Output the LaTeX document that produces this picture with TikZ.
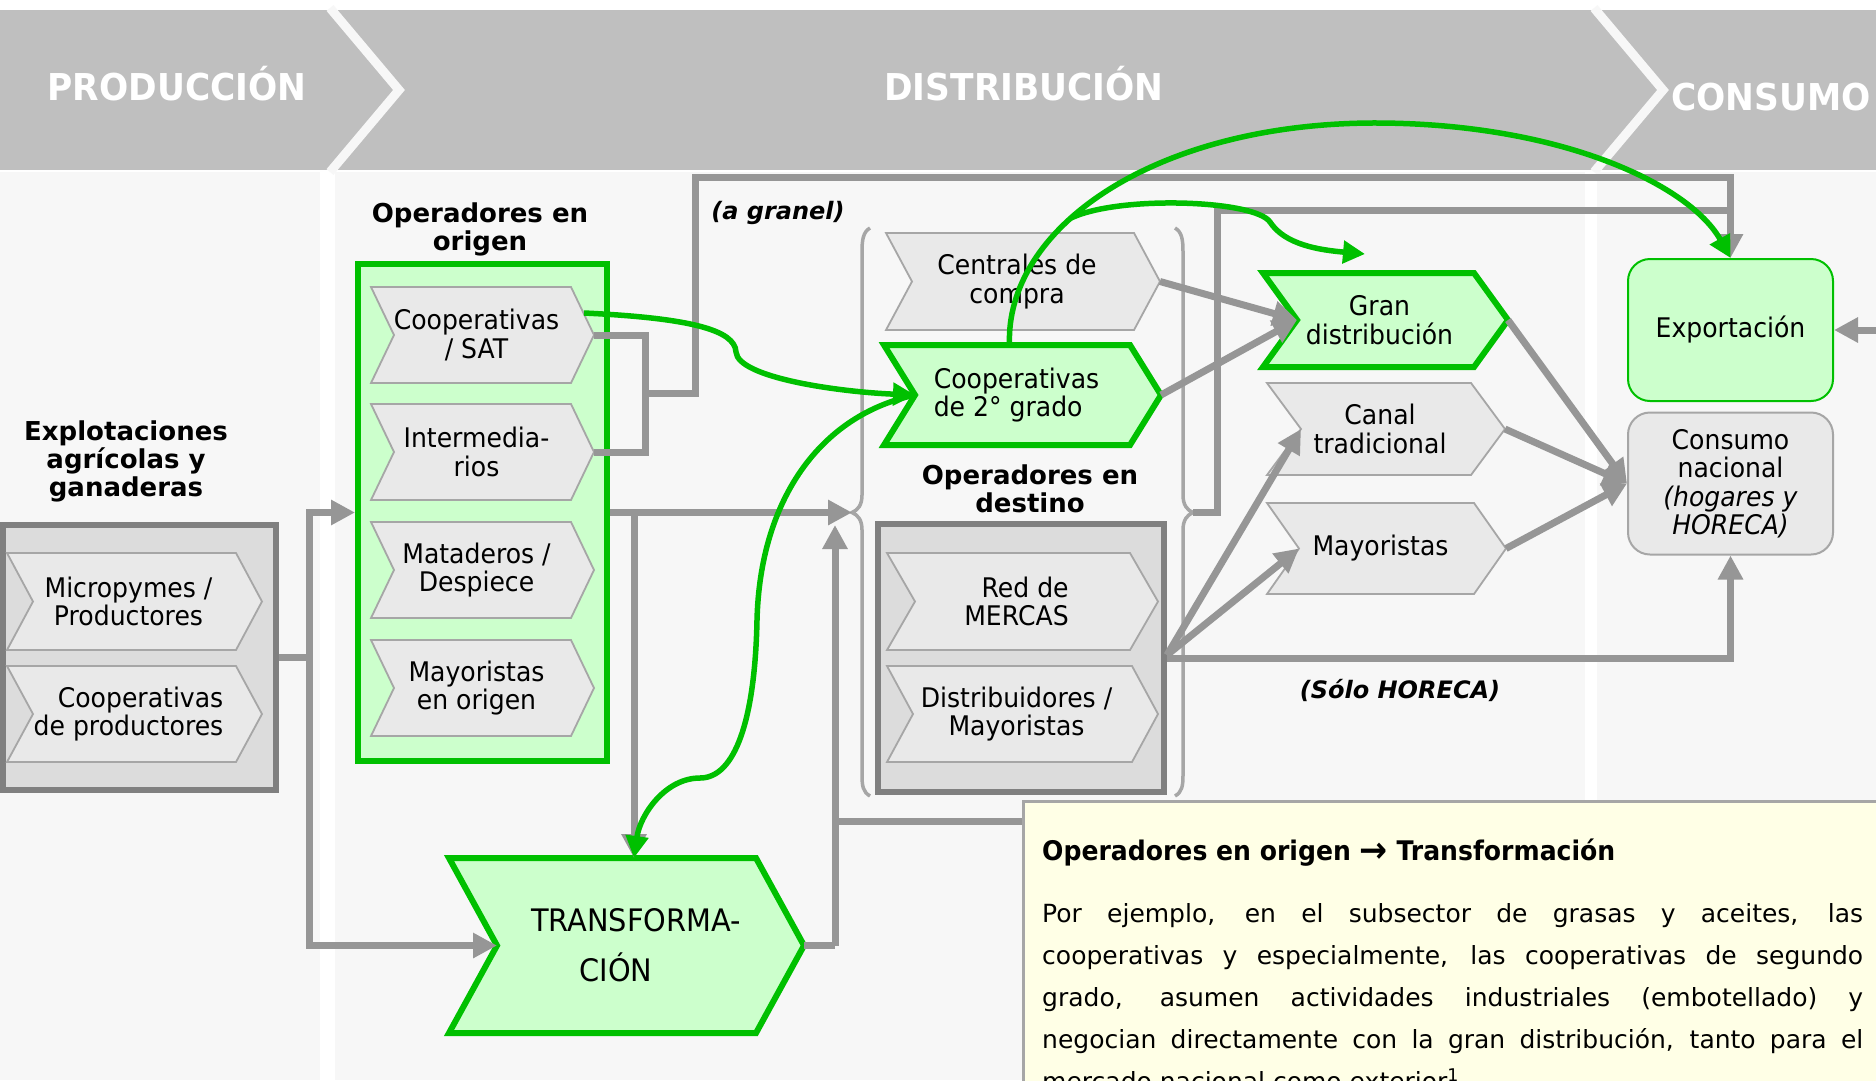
\documentclass[tikz,border=0pt]{standalone}
\usepackage{fontspec}
\setmainfont{DejaVu Sans}
\newfontfamily\nfont{DejaVu Sans}[FakeStretch=0.93]
\usetikzlibrary{arrows.meta,calc}
\definecolor{band}{HTML}{BFBFBF}
\definecolor{bgc}{HTML}{F7F7F7}
\definecolor{gr}{HTML}{00C000}
\definecolor{lgr}{HTML}{CCFFCC}
\definecolor{chf}{HTML}{E9E9E9}
\definecolor{chb}{HTML}{A6A6A6}
\definecolor{cf}{HTML}{DCDCDC}
\definecolor{cb}{HTML}{808080}
\definecolor{cn}{HTML}{969696}
\definecolor{notef}{HTML}{FFFFE6}

% #1 name, #2 shape style, #3 text style, #4 x1, #5 y1, #6 x2, #7 y2, #8 depth, #9 text
\newcommand{\chev}[9]{%
  \draw[#2] (#4,#5) -- ({#6-#8},#5) -- (#6,{(#5+#7)/2}) -- ({#6-#8},#7) -- (#4,#7) -- ({#4+#8},{(#5+#7)/2}) -- cycle;
  \coordinate (#1-tip) at (#6,{(#5+#7)/2});
  \coordinate (#1-notch) at ({#4+#8},{(#5+#7)/2});
  \coordinate (#1-top) at ({(#4+#6)/2},#5);
  \node[btext,#3] (#1) at ({(#4+#6)/2-6},{(#5+#7)/2}) {#9};
}

\begin{document}
\begin{tikzpicture}[x=1pt,y=-1pt,
  chevs/.style={draw=chb, fill=chf, line width=1.8},
  gchev/.style={draw=gr, fill=lgr, line width=6, line join=miter},
  btext/.style={font=\nfont\fontsize{27}{28.5}\selectfont, align=center, inner sep=0},
  ttext/.style={font=\nfont\fontsize{31}{50}\selectfont},
  ttl/.style={font=\bfseries\fontsize{26}{28}\selectfont, align=center, inner sep=0},
  lbl/.style={font=\bfseries\itshape\fontsize{24}{26}\selectfont, inner sep=0},
  htext/.style={text=white, font=\nfont\bfseries\fontsize{37}{40}\selectfont, inner sep=0},
  gbox/.style={draw=cb, fill=cf, line width=6, inner sep=0},
  greenbox/.style={draw=gr, fill=lgr, line width=6, inner sep=0},
  rbox/.style={rounded corners=22, minimum width=205, minimum height=142, inner sep=0, align=center, font=\nfont\fontsize{27}{28.5}\selectfont},
  conn/.style={draw=cn, line width=7},
  arr/.style={-{Triangle[length=24pt,width=24pt]}},
  gconn/.style={draw=gr, line width=5.5, -{Triangle[length=22pt,width=22pt]}},
  bracel/.style={draw=chb, line width=3.5},
  stripe/.style={draw=bgc, line width=9, line join=miter},
  notebox/.style={draw=chb, fill=notef, line width=3, inner sep=0}
]
\useasboundingbox (0,0) rectangle (1876,1080);
\clip (0,0) rectangle (1876,1080);

% backgrounds
\fill[white] (0,0) rectangle (1876,1080);
\fill[band] (0,10) rectangle (1876,170);
\fill[bgc] (0,172) rectangle (1876,1080);
\fill[white] (320,170) rectangle (335,1080);
\fill[white] (1585,170) rectangle (1597,1080);
\draw[stripe] (330,8) -- (399,90) -- (330,172);
\draw[stripe] (1594,8) -- (1663,90) -- (1594,172);

\node[htext, anchor=base] (prod) at (177,100) {PRODUCCIÓN};
\node[htext, anchor=base] (dist) at (1024,100) {DISTRIBUCIÓN};
\node[htext, anchor=base] (cons) at (1771,110) {CONSUMO};

% titles
\node[ttl] (explottitle) at (126,461) {Explotaciones\\agrícolas y\\ganaderas};
\node[ttl] (origtitle) at (480,229) {Operadores en\\origen};
\node[ttl] (desttitle) at (1030,489) {Operadores en\\destino};

% containers
\node[gbox, minimum width=273, minimum height=265] (explot) at (139.5,657.5) {};
\node[greenbox, minimum width=249, minimum height=497] (origbox) at (482.5,512.5) {};
\node[gbox, minimum width=286, minimum height=268] (destino) at (1021,658) {};

% chevrons
\chev{micro}{chevs}{}{7}{553}{262}{650}{26}{Micropymes /\\Productores}
\chev{coopprod}{chevs}{align=right}{7}{666}{262}{762}{26}{Cooperativas\\de productores}

\chev{coopsat}{chevs}{}{371}{287}{594}{383}{23}{Cooperativas\\/ SAT}
\chev{inter}{chevs}{}{371}{404}{594}{500}{23}{Intermedia-\\rios}
\chev{matad}{chevs}{}{371}{522}{594}{618}{23}{Mataderos /\\Despiece}
\chev{mayor}{chevs}{}{371}{640}{594}{736}{23}{Mayoristas\\en origen}

\chev{transf}{gchev}{ttext}{449}{858}{804}{1033}{48}{\hspace*{31pt}TRANSFORMA-\\CIÓN\hspace*{9pt}}

\chev{centr}{chevs}{}{886}{233}{1160}{330}{26}{Centrales de\\compra}
\chev{coop2}{gchev}{align=left}{884}{345}{1161}{445}{31}{Cooperativas\\de 2° grado}
\chev{mercas}{chevs}{align=right}{887}{553}{1158}{650}{28}{Red de\\MERCAS}
\chev{distr}{chevs}{}{887}{666}{1158}{762}{26}{Distribuidores /\\Mayoristas}

\chev{gran}{gchev}{}{1263}{273}{1508}{367}{34}{Gran\\distribución}
\chev{canal}{chevs}{}{1267}{383}{1505}{475}{34}{Canal\\tradicional}
\chev{mayd}{chevs}{}{1267}{503}{1506}{594}{32}{Mayoristas}

\node[rbox, draw=gr, fill=lgr, line width=2] (export) at (1730.5,330) {Exportación};
\node[rbox, draw=chb, fill=chf, line width=2] (consumo) at (1730.5,483.5) {Consumo\\nacional\\\textit{(hogares y}\\\textit{HORECA)}};

% labels
\node[lbl] (granel) at (778,213) {(a granel)};
\node[lbl] (horeca) at (1400,690) {(Sólo HORECA)};

% braces
\coordinate (lbrace) at (852,512.5);
\coordinate (rbrace) at (1193,512.5);
\draw[bracel] (870,228) .. controls (863,232) and (862,240) .. (862,252) -- (862,495) .. controls (862,505) and (858,510) .. (lbrace) .. controls (858,515) and (862,520) .. (862,530) -- (862,775) .. controls (862,786) and (863,792) .. (870,796);
\draw[bracel] (1175,228) .. controls (1182,232) and (1183,240) .. (1183,252) -- (1183,495) .. controls (1183,505) and (1187,510) .. (rbrace) .. controls (1187,515) and (1183,520) .. (1183,530) -- (1183,775) .. controls (1183,786) and (1182,792) .. (1175,796);

% grey connectors
\coordinate (j1) at (309,657.5);
\coordinate (j2) at (634,512.5);
\coordinate (transfin) at (634,858);
\coordinate (j3) at (835,945.5);
\coordinate (lbin) at (835,525);
\coordinate (j4) at (835,821);
\coordinate (noteentry) at (1040,821);
\coordinate (j5) at (645,335);
\coordinate (j6) at (645,393.5);
\coordinate (j7) at (695,177);
\coordinate (j8) at (1217,210);
\coordinate (dout) at (1167,655);
\coordinate (rin) at (1876,330);

\draw[conn] (explot.east) -- (j1);
\draw[conn,arr] (j1) |- (origbox.west);
\draw[conn,arr] (j1) |- (transf-notch);
\draw[conn,arr] (origbox.east) -- (lbrace);
\draw[conn,arr] (j2) -- (transfin);
\draw[conn] (transf-tip) -- (j3);
\draw[conn,arr] (j3) -- (lbin);
\draw[conn] (j4) -- (noteentry);
\draw[conn] (coopsat-tip) -- (j5) |- (inter-tip);
\draw[conn,arr] (j6) -| (j7) -| (export.north);
\draw[conn] (rbrace) -| (j8) -- (j8 -| export.north);
\draw[conn,arr] (centr-tip) -- (gran-notch);
\draw[conn,arr] (coop2-tip) -- (gran-notch);
\draw[conn,arr] (gran-tip) -- (consumo.west);
\draw[conn,arr] (canal-tip) -- (consumo.west);
\draw[conn,arr] (mayd-tip) -- (consumo.west);
\draw[conn,arr] (dout) -- (canal-notch);
\draw[conn,arr] (dout) -- (mayd-notch);
\draw[conn,arr] (destino.east) -| (consumo.south);
\draw[conn,arr] (rin) -- (export.east);

% green connectors
\coordinate (coopsat-gout) at ($(coopsat-tip)+(-10,-22)$);
\coordinate (coop2-gout) at ($(coop2-top)+(-13,0)$);
\coordinate (fork) at (1071,218);
\coordinate (gdin) at (1365,254);
\draw[gconn] (coopsat-gout) .. controls (690,318) and (735,330) .. (736,352) .. controls (738,378) and (840,392) .. (coop2-notch);
\draw[gconn] (coop2-notch) .. controls (820,415) and (760,500) .. (757,620) .. controls (755,720) and (735,778) .. (700,778) .. controls (665,778) and (640,815) .. (transfin);
\draw[gconn] (coop2-gout) .. controls (1005,230) and (1150,125) .. (1370,123) .. controls (1560,122) and (1690,185) .. (export.north);
\draw[gconn] (fork) .. controls (1120,195) and (1255,200) .. (1270,222) .. controls (1285,245) and (1320,250) .. (gdin);

% note
\node[notebox, anchor=north west, minimum width=900, minimum height=320] (note) at (1022,800) {};
\node[anchor=base west, inner sep=0, font=\nfont\bfseries\fontsize{27}{30}\selectfont] (notetitle) at (1042,860) {Operadores en origen {\fontsize{36}{30}\selectfont\raisebox{-2pt}{→}} Transformación};
\node[anchor=north west, inner sep=0, align=left, font=\fontsize{25}{42}\selectfont] (notebody) at (1042,903) {\makebox[821pt][s]{Por ejemplo, en el subsector de grasas y aceites, las}\\\makebox[821pt][s]{cooperativas y especialmente, las cooperativas de segundo}\\\makebox[821pt][s]{grado, asumen actividades industriales (embotellado) y}\\\makebox[821pt][s]{negocian directamente con la gran distribución, tanto para el}\\mercado nacional como exterior\textsuperscript{1}};
\end{tikzpicture}
\end{document}
